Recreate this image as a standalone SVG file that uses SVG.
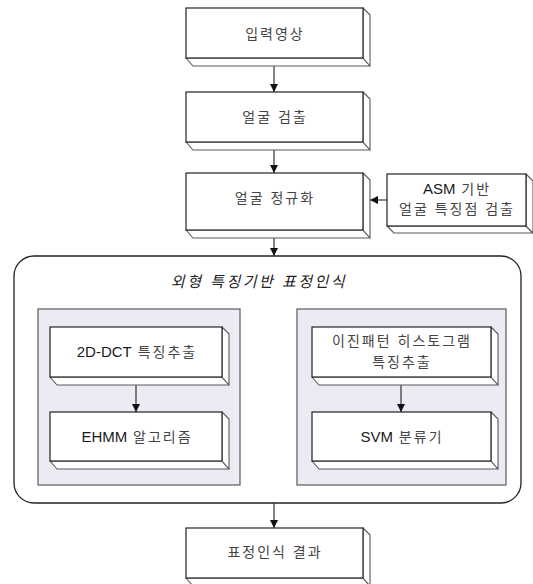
<svg xmlns="http://www.w3.org/2000/svg" width="533" height="584" viewBox="0 0 533 584">
  <style>
    .face { fill: #ffffff; stroke: #222222; stroke-width: 1.2; }
    .bevel { fill: #ffffff; stroke: #5a5a5a; stroke-width: 1.1; stroke-linejoin: round; }
    .panel { fill: #ebebf4; stroke: #666666; stroke-width: 1.3; }
    .frame { fill: #ffffff; stroke: #222222; stroke-width: 1.3; }
    .label { font-family: "Liberation Sans", "Noto Sans CJK KR", sans-serif; font-size: 14px; letter-spacing: 2px; fill: #444444; text-anchor: middle; }
    .latin { letter-spacing: 0px; font-size: 15px; fill: #1a1a1a; }
    .title { font-family: "Liberation Sans", "Noto Sans CJK KR", sans-serif; font-size: 15px; letter-spacing: 2.5px; font-style: italic; fill: #222222; text-anchor: middle; }
    .link { fill: none; stroke: #333333; stroke-width: 1.2; }
  </style>
  <defs>
    <marker id="arrow" viewBox="0 0 10 10" refX="10" refY="5" markerUnits="userSpaceOnUse" markerWidth="8" markerHeight="9" orient="auto">
      <path d="M0,0 L10,5 L0,10 Z" fill="#111111"/>
    </marker>
  </defs>

  <!-- outer grouping frame -->
  <g id="frame-appearance">
    <rect class="frame" x="14" y="256" width="507" height="247" rx="20" ry="20"/>
    <text class="title" x="259" y="287">외형 특징기반 표정인식</text>
  </g>

  <!-- shaded method panels -->
  <g id="panel-dct">
    <rect class="panel" x="38" y="309" width="202" height="176"/>
  </g>
  <g id="panel-lbp">
    <rect class="panel" x="297" y="309" width="209" height="176"/>
  </g>

  <!-- connectors -->
  <g id="connectors">
    <line class="link" x1="274" y1="66" x2="274" y2="92" marker-end="url(#arrow)"/>
    <line class="link" x1="274" y1="150" x2="274" y2="173" marker-end="url(#arrow)"/>
    <line class="link" x1="387" y1="200" x2="370" y2="200" marker-end="url(#arrow)"/>
    <line class="link" x1="274" y1="238" x2="274" y2="256" marker-end="url(#arrow)"/>
    <line class="link" x1="136" y1="385" x2="136" y2="412" marker-end="url(#arrow)"/>
    <line class="link" x1="401" y1="385" x2="401" y2="412" marker-end="url(#arrow)"/>
    <line class="link" x1="274" y1="503" x2="274" y2="528" marker-end="url(#arrow)"/>
  </g>

  <!-- process boxes: bottom bevel, side bevel, front face -->
  <g id="node-input">
    <polygon class="bevel" points="186,58 193,66 370,66 363,58"/>
    <polygon class="bevel" points="363,8 370,15 370,66 363,58"/>
    <rect class="face" x="186" y="8" width="177" height="50"/>
    <text class="label" x="275" y="39">입력영상</text>
  </g>

  <g id="node-detect">
    <polygon class="bevel" points="186,142 193,150 370,150 363,142"/>
    <polygon class="bevel" points="363,92 370,99 370,150 363,142"/>
    <rect class="face" x="186" y="92" width="177" height="50"/>
    <text class="label" x="275" y="122">얼굴 검출</text>
  </g>

  <g id="node-normalize">
    <polygon class="bevel" points="186,230 193,238 370,238 363,230"/>
    <polygon class="bevel" points="363,173 370,180 370,238 363,230"/>
    <rect class="face" x="186" y="173" width="177" height="57"/>
    <text class="label" x="275" y="203">얼굴 정규화</text>
  </g>

  <g id="node-asm">
    <polygon class="bevel" points="387,226 394,233 533,233 526,226"/>
    <polygon class="bevel" points="526,174 533,181 533,233 526,226"/>
    <rect class="face" x="387" y="174" width="139" height="52"/>
    <text class="label" x="457" y="194"><tspan class="latin">ASM</tspan> 기반</text>
    <text class="label" x="457" y="214">얼굴 특징점 검출</text>
  </g>

  <g id="node-dct">
    <polygon class="bevel" points="50,377 57,385 229,385 222,377"/>
    <polygon class="bevel" points="222,327 229,334 229,385 222,377"/>
    <rect class="face" x="50" y="327" width="172" height="50"/>
    <text class="label" x="137" y="357"><tspan class="latin">2D-DCT</tspan> 특징추출</text>
  </g>

  <g id="node-ehmm">
    <polygon class="bevel" points="50,461 57,469 229,469 222,461"/>
    <polygon class="bevel" points="222,412 229,419 229,469 222,461"/>
    <rect class="face" x="50" y="412" width="172" height="49"/>
    <text class="label" x="137" y="442"><tspan class="latin">EHMM</tspan> 알고리즘</text>
  </g>

  <g id="node-lbp">
    <polygon class="bevel" points="312,377 319,385 498,385 491,377"/>
    <polygon class="bevel" points="491,327 498,334 498,385 491,377"/>
    <rect class="face" x="312" y="327" width="179" height="50"/>
    <text class="label" x="402" y="346">이진패턴 히스토그램</text>
    <text class="label" x="402" y="367">특징추출</text>
  </g>

  <g id="node-svm">
    <polygon class="bevel" points="312,461 319,469 498,469 491,461"/>
    <polygon class="bevel" points="491,412 498,419 498,469 491,461"/>
    <rect class="face" x="312" y="412" width="179" height="49"/>
    <text class="label" x="402" y="442"><tspan class="latin">SVM</tspan> 분류기</text>
  </g>

  <g id="node-result">
    <polygon class="bevel" points="186,578 193,586 370,586 363,578"/>
    <polygon class="bevel" points="363,528 370,535 370,586 363,578"/>
    <rect class="face" x="186" y="528" width="177" height="50"/>
    <text class="label" x="275" y="557">표정인식 결과</text>
  </g>
</svg>
